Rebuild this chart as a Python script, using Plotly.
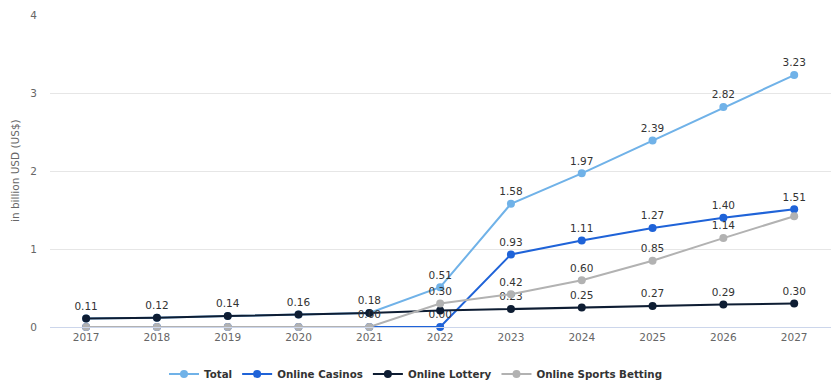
import plotly.graph_objects as go

years = [2017, 2018, 2019, 2020, 2021, 2022, 2023, 2024, 2025, 2026, 2027]
total = [0.11, 0.12, 0.14, 0.16, 0.18, 0.51, 1.58, 1.97, 2.39, 2.82, 3.23]
casinos = [0.00, 0.00, 0.00, 0.00, 0.00, 0.00, 0.93, 1.11, 1.27, 1.40, 1.51]
lottery = [0.11, 0.12, 0.14, 0.16, 0.18, 0.21, 0.23, 0.25, 0.27, 0.29, 0.30]
sports = [0.00, 0.00, 0.00, 0.00, 0.00, 0.30, 0.42, 0.60, 0.85, 1.14, 1.42]

# which labels are visible (others hidden due to overlap in original)
show_total = [True] * 11
show_casinos = [False] * 5 + [True] * 6
show_lottery = [False] * 6 + [True] * 5
show_sports = [False, False, False, False, True, True, True, True, True, True, False]

series = [
    ("Total", total, show_total, "#70b2e8"),
    ("Online Casinos", casinos, show_casinos, "#1f63d8"),
    ("Online Lottery", lottery, show_lottery, "#0e1d33"),
    ("Online Sports Betting", sports, show_sports, "#b2b2b2"),
]

FONT = "DejaVu Sans, sans-serif"

fig = go.Figure()
for name, vals, show, col in series:
    fig.add_trace(go.Scatter(
        x=years, y=vals, name=name, mode="lines+markers+text",
        line=dict(color=col, width=2),
        marker=dict(color=col, size=8),
        text=[f"{v:.2f}" if s else "" for v, s in zip(vals, show)],
        textposition="top center",
        textfont=dict(family=FONT, size=10.5, color="#333333"),
        cliponaxis=False,
    ))

fig.update_layout(
    width=839, height=391,
    margin=dict(l=42, r=16, t=7, b=72, autoexpand=False),
    paper_bgcolor="white", plot_bgcolor="white",
    font=dict(family=FONT, size=11, color="#666666"),
    showlegend=True,
    legend=dict(orientation="h", x=(408 - 42) / 781, xanchor="center", xref="paper",
                y=(391 - 366) / 391, yanchor="middle", yref="container",
                font=dict(size=10.3, color="#333333", family=FONT, weight="bold"),
                tracegroupgap=0),
    annotations=[dict(text="in billion USD (US$)", x=(7 - 42) / 781, y=0.5,
                      xref="paper", yref="paper", showarrow=False,
                      textangle=-90, font=dict(size=10.5, color="#666666", family=FONT),
                      xanchor="center", yanchor="middle")],
)
fig.update_xaxes(
    range=[2016.49, 2027.52], tickmode="array", tickvals=years,
    ticktext=[str(y) for y in years], showgrid=False, zeroline=False,
    showline=True, linecolor="#ccd6eb", linewidth=1,
    tickfont=dict(size=10.5, color="#666666"), ticks="", automargin=False,
)
fig.update_yaxes(
    range=[0, 4], tickvals=[0, 1, 2, 3, 4], showgrid=True, gridcolor="#e6e6e6",
    zeroline=False, showline=False, tickfont=dict(size=10.5, color="#666666"),
    automargin=False, ticklabelstandoff=12, ticklabeloverflow="allow",
)

fig.write_html("out.html")
